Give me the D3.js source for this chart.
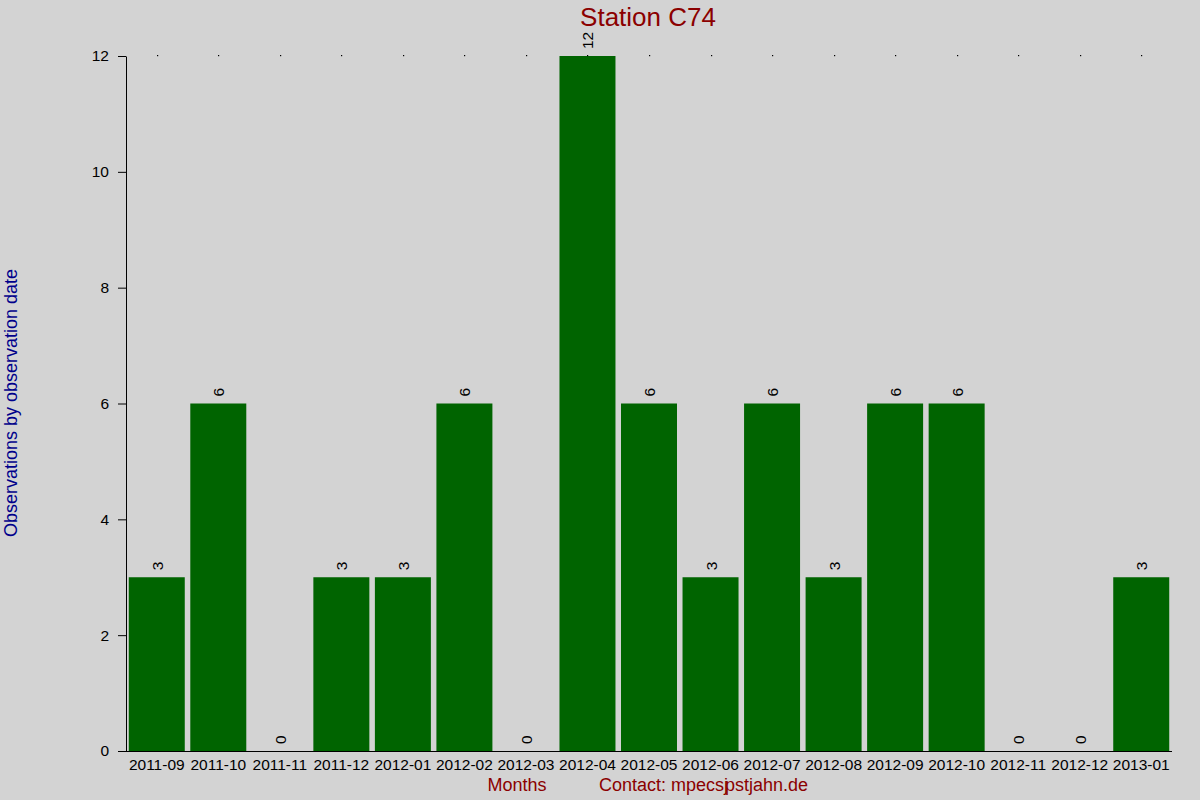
<!DOCTYPE html>
<html>
<head>
<meta charset="utf-8">
<script src="https://cdn.jsdelivr.net/npm/d3@7"></script>
<style>
  body { margin: 0; background: #d3d3d3; }
  svg { display: block; font-family: "Liberation Sans", Arial, sans-serif; }
</style>
</head>
<body>
<div class="canva"></div>
<script>
// dati
var months = ["2011-09","2011-10","2011-11","2011-12","2012-01","2012-02","2012-03","2012-04",
              "2012-05","2012-06","2012-07","2012-08","2012-09","2012-10","2012-11","2012-12","2013-01"];
var observations = [3, 6, 0, 3, 3, 6, 0, 12, 6, 3, 6, 3, 6, 6, 0, 0, 3];
var yTicks = [0, 2, 4, 6, 8, 10, 12];

var W = 1200, H = 800;
var margin = {top: 56, right: 28, bottom: 49, left: 126},
width = W - margin.left - margin.right,
height = H - margin.top - margin.bottom;

var svg = d3.select(".canva")
  .append("svg")
    .attr("width", W)
    .attr("height", H);

svg.append("rect").attr("width", W).attr("height", H).attr("fill", "#d3d3d3");

var g = svg.append("g")
  .attr("transform", "translate(" + margin.left + "," + margin.top + ")");

var data = [];
for (i = 0; i < months.length; i++) {
  data.push({month: months[i], value: observations[i]});
}

var x = d3.scaleBand()
  .range([0, width])
  .domain(months)
  .paddingInner(0.09)
  .paddingOuter(0.045);

var y = d3.scaleLinear()
  .domain([0, 12])
  .range([height, 0]);

// barre
g.selectAll("rect.bar")
  .data(data)
  .enter()
  .append("rect")
    .attr("class", "bar")
    .attr("x", function(d) { return x(d.month); })
    .attr("width", x.bandwidth())
    .attr("y", function(d) { return y(d.value); })
    .attr("height", function(d) { return height - y(d.value); })
    .attr("fill", "#006400");

// asse Y
var yAxis = g.append("g")
  .call(d3.axisLeft(y).tickValues(yTicks).tickSize(8).tickPadding(9).tickSizeOuter(0));
yAxis.select(".domain").attr("stroke", "#000");
yAxis.selectAll("text").style("font-size", "15.5px").attr("fill", "#000")
  .attr("font-family", "Liberation Sans, Arial, sans-serif");

// asse X
var xAxis = g.append("g")
  .attr("transform", "translate(0," + height + ")")
  .call(d3.axisBottom(x).tickSize(0).tickPadding(8).tickSizeOuter(0));
xAxis.select(".domain").remove();
xAxis.selectAll("text").style("font-size", "15.5px").attr("fill", "#000")
  .attr("font-family", "Liberation Sans, Arial, sans-serif");
g.append("line")
  .attr("x1", -8).attr("x2", width)
  .attr("y1", height + 0.5).attr("y2", height + 0.5)
  .attr("stroke", "#000");

// puntini in alto
g.selectAll("rect.dot")
  .data(data)
  .enter()
  .append("rect")
    .attr("class", "dot")
    .attr("x", function(d) { return Math.round(x(d.month) + x.bandwidth() / 2); })
    .attr("y", y(12) - 1)
    .attr("width", 1.2)
    .attr("height", 1.2)
    .attr("fill", "#000");

// etichette valori
g.selectAll("text.val")
  .data(data)
  .enter()
  .append("text")
    .attr("class", "val")
    .attr("transform", function(d) {
      return "translate(" + (x(d.month) + x.bandwidth() / 2 + 6) + "," + (y(d.value) - 7) + ")rotate(-90)";
    })
    .style("font-size", "15.5px")
    .attr("fill", "#000")
    .text(function(d) { return d.value; });

// titoli
svg.append("text")
  .attr("x", 648).attr("y", 26)
  .attr("text-anchor", "middle")
  .style("font-size", "26px")
  .attr("fill", "#8b0000")
  .text("Station C74");

svg.append("text")
  .attr("transform", "translate(17,403)rotate(-90)")
  .attr("text-anchor", "middle")
  .style("font-size", "18px")
  .attr("fill", "#00008b")
  .text("Observations by observation date");

svg.append("text")
  .attr("x", 517).attr("y", 791)
  .attr("text-anchor", "middle")
  .style("font-size", "18px")
  .attr("fill", "#8b0000")
  .text("Months");

var contact = svg.append("text")
  .attr("x", 599).attr("y", 791)
  .style("font-size", "18px")
  .attr("fill", "#8b0000");
contact.append("tspan").text("Contact: mpecsj");
contact.append("tspan").attr("dx", -3).text("pstjahn.de");
</script>
</body>
</html>
